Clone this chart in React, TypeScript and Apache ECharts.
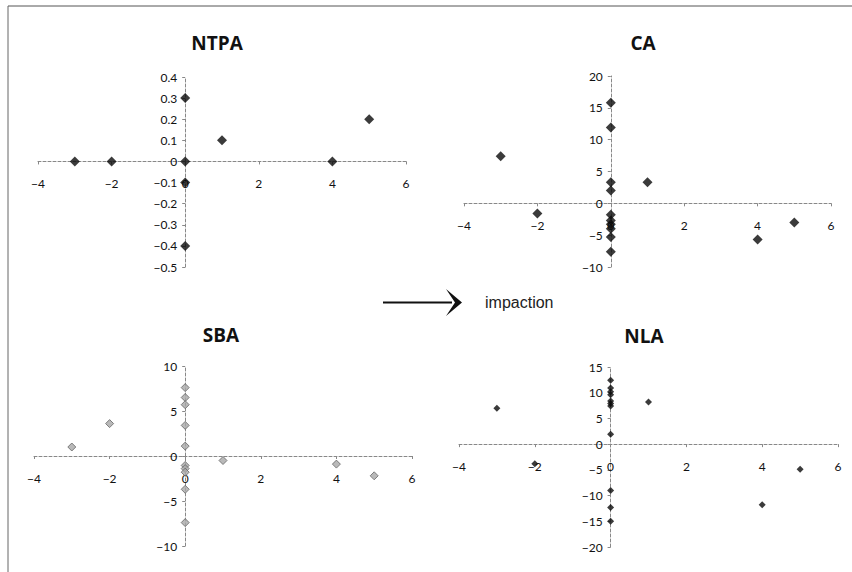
import React, { useEffect, useRef } from "react";
import * as echarts from "echarts";

const panelTitles = ["NTPA", "CA", "SBA", "NLA"];

const ntpaPoints: [number, number][] = [
  [-3, 0], [-2, 0], [0, 0.3], [0, 0], [0, -0.1], [0, -0.4], [1, 0.1], [4, 0], [5, 0.2],
];
const caPoints: [number, number][] = [
  [-3, 7.4], [-2, -1.6], [0, 15.8], [0, 11.9], [0, 3.3], [0, 2.0], [0, -1.8], [0, -2.7],
  [0, -3.3], [0, -4.0], [0, -5.3], [0, -7.6], [1, 3.3], [4, -5.7], [5, -3.0],
];
const sbaPoints: [number, number][] = [
  [-3, 1.0], [-2, 3.6], [0, 7.6], [0, 6.5], [0, 5.7], [0, 3.4], [0, 1.1], [0, -1.05],
  [0, -1.4], [0, -1.8], [0, -3.7], [0, -7.4], [1, -0.5], [4, -0.9], [5, -2.2],
];
const nlaPoints: [number, number][] = [
  [-3, 7.0], [-2, -3.8], [0, 12.4], [0, 10.9], [0, 10.2], [0, 9.6], [0, 8.4], [0, 7.9],
  [0, 7.4], [0, 1.9], [0, -9.0], [0, -12.3], [0, -15.0], [1, 8.2], [4, -11.8], [5, -4.9],
];

const xRange = { min: -4, max: 6, interval: 2 };
const yRanges = [
  { min: -0.5, max: 0.4, interval: 0.1 },
  { min: -10, max: 20, interval: 5 },
  { min: -10, max: 10, interval: 5 },
  { min: -20, max: 15, interval: 5 },
];

export default function App() {
  const ref = useRef<HTMLDivElement>(null);
  useEffect(() => {
    if (!ref.current) return;
    const chart = echarts.init(ref.current, null, { renderer: "svg" });
    const grids = [
      { left: 38, top: 77, width: 368, height: 190 },
      { left: 464, top: 76, width: 367, height: 191 },
      { left: 34, top: 366, width: 378, height: 180 },
      { left: 459, top: 367, width: 379, height: 180 },
    ];
    const axisLine = {
      onZero: false,
      lineStyle: { color: "#888", width: 1, type: [3, 2] as any },
    };
    const labelStyle = { color: "#111", fontSize: 12, fontFamily: "Lato" };
    const minus = (s: string) => s.replace("-", "\u2212");
    const xAxes = grids.map((g, i) => {
      const r = yRanges[i];
      const zeroFromBottom = (g.height * (0 - r.min)) / (r.max - r.min);
      return {
        type: "value" as const,
        gridIndex: i,
        position: "bottom" as const,
        offset: -zeroFromBottom,
        min: xRange.min,
        max: xRange.max,
        interval: xRange.interval,
        axisLine,
        axisTick: { show: true, length: 3, lineStyle: { color: "#888" } },
        axisLabel: { ...labelStyle, margin: 16, formatter: (v: number) => minus(v.toString()) },
        splitLine: { show: false },
      };
    });
    const yAxes = yRanges.map((r, i) => {
      const g = grids[i];
      const zeroFromLeft = (g.width * (0 - xRange.min)) / (xRange.max - xRange.min);
      return {
        type: "value" as const,
        gridIndex: i,
        position: "left" as const,
        offset: -zeroFromLeft,
        min: r.min,
        max: r.max,
        interval: r.interval,
        axisLine,
        axisTick: { show: true, length: 3, lineStyle: { color: "#888" } },
        axisLabel: {
          ...labelStyle,
          margin: 8,
          formatter: (v: number) =>
            minus(i === 0 ? (Math.round(v * 10) / 10).toString() : v.toString()),
        },
        splitLine: { show: false },
      };
    });
    const dataSets = [ntpaPoints, caPoints, sbaPoints, nlaPoints];
    const sizes = [10, 10, 8, 7];
    const series = dataSets.map((d, i) => ({
      type: "scatter" as const,
      xAxisIndex: i,
      yAxisIndex: i,
      data: d,
      symbol: "diamond",
      symbolSize: sizes[i],
      itemStyle:
        i === 2
          ? { color: "#a8a8a8", borderColor: "#666", borderWidth: 1 }
          : { color: "#0a0a0a" },
    }));
    const titlePos = [
      [217, 43],
      [643, 43],
      [221, 335],
      [644, 336],
    ];
    const graphics: any[] = panelTitles.map((t, i) => ({
      type: "text",
      x: titlePos[i][0],
      y: titlePos[i][1],
      style: {
        text: t,
        fontSize: 19,
        fontWeight: "bold",
        fontFamily: "Open Sans",
        fill: "#111",
        textAlign: "center",
        textVerticalAlign: "middle",
      },
    }));
    graphics.push(
      { type: "line", shape: { x1: 8, y1: 6, x2: 852, y2: 6 }, style: { stroke: "#555", lineWidth: 1 } },
      { type: "line", shape: { x1: 8, y1: 6, x2: 8, y2: 572 }, style: { stroke: "#666", lineWidth: 1 } },
      { type: "line", shape: { x1: 383, y1: 302.5, x2: 452, y2: 302.5 }, style: { stroke: "#111", lineWidth: 2 } },
      {
        type: "polygon",
        shape: { points: [[446, 289], [462, 302.5], [446, 316], [455, 302.5]] },
        style: { fill: "#111" },
      },
      {
        type: "text",
        x: 485,
        y: 302,
        style: {
          text: "impaction",
          fontSize: 16,
          fontFamily: "Liberation Sans",
          fill: "#222",
          textVerticalAlign: "middle",
        },
      }
    );
    chart.setOption({
      animation: false,
      backgroundColor: "#fff",
      grid: grids,
      xAxis: xAxes,
      yAxis: yAxes,
      series,
      graphic: graphics,
    });
    return () => chart.dispose();
  }, []);
  return (
    <div
      ref={ref}
      style={{ position: "absolute", left: 0, top: 0, width: 852, height: 572 }}
    />
  );
}
